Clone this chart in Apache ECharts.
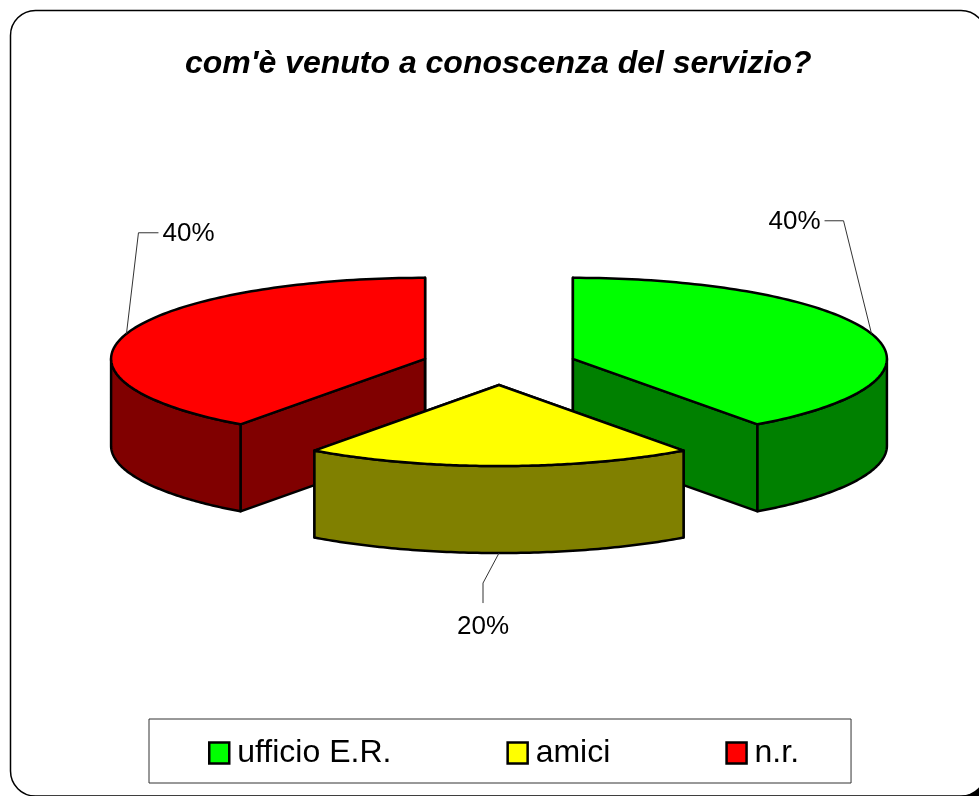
<!DOCTYPE html>
<html>
<head>
<meta charset="utf-8">
<title>com'è venuto a conoscenza del servizio?</title>
<style>
html,body{margin:0;padding:0;background:#fff;}
#main{width:979px;height:796px;}
</style>
</head>
<body>
<div id="main"></div>
<script src="https://cdn.jsdelivr.net/npm/echarts@6/dist/echarts.min.js"></script>
<script>
var titleText = "com'è venuto a conoscenza del servizio?";
var categories = ['ufficio E.R.', 'amici', 'n.r.'];
var values = [40, 20, 40];
var topColors = ['#00ff00', '#ffff00', '#ff0000'];
var wallColors = ['#008000', '#808000', '#800000'];

// pie geometry
var pieX = 499, pieY = 365, radiusX = 314, radiusY = 81, depth = 87, explode = 0.2475;
var fontName = '"Liberation Sans", Arial, sans-serif';

// leader line bends, relative to the slice's rim point, and where the text hangs
var leaderBends = [
    [[-28, -113], [-47, -113]],
    [[-16, 30], [-16, 50]],
    [[12, -101], [32, -101]]
];
var labelAlign = ['right', 'center', 'left'];
var labelGap = [[-4, 1], [0, 24], [4, 1]];

var total = values.reduce(function (a, b) { return a + b; }, 0);
var slices = [];
var acc = 0;
for (var i = 0; i < values.length; i++) {
    var a0 = acc / total * 2 * Math.PI;
    acc += values[i];
    slices.push({ start: a0, end: acc / total * 2 * Math.PI });
}

// angle goes clockwise from the top of the ellipse
function rim(cx, cy, a) {
    return [cx + radiusX * Math.sin(a), cy - radiusY * Math.cos(a)];
}
function down(p) {
    return [p[0], p[1] + depth];
}

function renderSlice(params) {
    var idx = params.seriesIndex;
    var s = slices[idx];
    var mid = (s.start + s.end) / 2;
    var cx = pieX + explode * radiusX * Math.sin(mid);
    var cy = pieY - explode * radiusY * Math.cos(mid);
    var centre = [cx, cy];
    var children = [];

    function poly(points, fill) {
        children.push({
            type: 'polygon',
            shape: { points: points },
            style: { fill: fill, stroke: '#000', lineWidth: 2.5, lineJoin: 'round' }
        });
    }

    // the two cut faces
    [s.start, s.end].forEach(function (a) {
        var p = rim(cx, cy, a);
        poly([centre, p, down(p), down(centre)], wallColors[idx]);
    });

    // outer wall, only the front half of the rim shows
    var from = Math.max(s.start, Math.PI / 2);
    var to = Math.min(s.end, Math.PI * 3 / 2);
    if (to > from) {
        var upper = [], lower = [];
        for (var k = 0; k <= 90; k++) {
            var p = rim(cx, cy, from + (to - from) * k / 90);
            upper.push(p);
            lower.unshift(down(p));
        }
        poly(upper.concat(lower), wallColors[idx]);
    }

    // top face
    var top = [centre];
    for (var j = 0; j <= 120; j++) {
        top.push(rim(cx, cy, s.start + (s.end - s.start) * j / 120));
    }
    poly(top, topColors[idx]);

    // leader line and percentage
    var anchor = rim(cx, cy, mid);
    if (mid > Math.PI / 2 && mid < Math.PI * 3 / 2) {
        anchor = down(anchor);
    }
    var pts = [anchor].concat(leaderBends[idx].map(function (b) {
        return [anchor[0] + b[0], anchor[1] + b[1]];
    }));
    children.push({
        type: 'polyline',
        shape: { points: pts },
        style: { fill: null, stroke: '#333', lineWidth: 1 }
    });
    var end = pts[pts.length - 1];
    children.push({
        type: 'text',
        x: end[0] + labelGap[idx][0],
        y: end[1] + labelGap[idx][1],
        style: {
            text: Math.round(values[idx] / total * 100) + '%',
            fill: '#000',
            font: '26px ' + fontName,
            textAlign: labelAlign[idx],
            textVerticalAlign: 'middle'
        }
    });
    return { type: 'group', children: children };
}

var series = [];
for (var n = 0; n < categories.length; n++) {
    series.push({
        type: 'custom',
        name: categories[n],
        coordinateSystem: 'none',
        renderItem: renderSlice,
        // amici sits in front of the other two
        z: n === 1 ? 4 : 3,
        silent: true,
        clip: false,
        itemStyle: { color: topColors[n], borderColor: '#000', borderWidth: 2 },
        data: [[values[n]]]
    });
}

var myChart = echarts.init(document.getElementById('main'), null, { renderer: 'canvas' });
myChart.setOption({
    animation: false,
    backgroundColor: '#fff',
    color: topColors,
    tooltip: { show: false },
    title: {
        text: titleText,
        left: 180,
        top: 43,
        textStyle: { fontFamily: fontName, fontStyle: 'italic', fontWeight: 'bold', fontSize: 32, color: '#000' }
    },
    legend: {
        data: categories,
        left: 149,
        top: 719,
        padding: [18, 52, 14, 59],
        itemGap: 115,
        itemWidth: 20,
        itemHeight: 21,
        icon: 'rect',
        borderColor: '#333',
        borderWidth: 1,
        backgroundColor: '#fff',
        selectedMode: false,
        itemStyle: { borderColor: '#000', borderWidth: 2.5 },
        textStyle: { fontFamily: fontName, fontSize: 32, color: '#000', padding: [16, 0, 0, 3] }
    },
    graphic: [
        // dark backing shows only in the far corner
        { type: 'rect', z: -3, silent: true, shape: { x: 100, y: 100, width: 898, height: 698, r: 25 }, style: { fill: '#000' } },
        { type: 'rect', z: -2, silent: true, shape: { x: 10.5, y: 10.5, width: 975.5, height: 785.5, r: 25 }, style: { fill: '#fff', stroke: '#000', lineWidth: 1.5 } }
    ],
    series: series
});
</script>
</body>
</html>
